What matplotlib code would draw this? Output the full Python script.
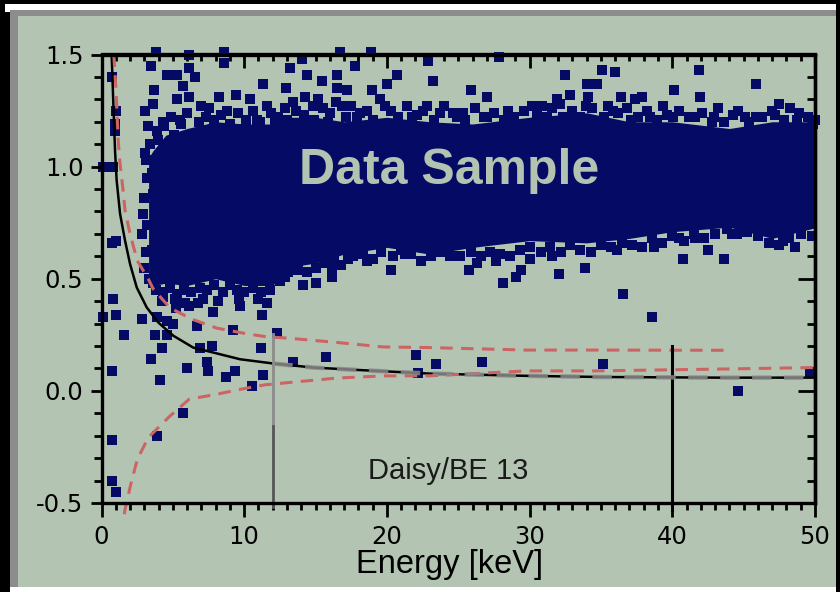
import numpy as np
import matplotlib
matplotlib.use("Agg")
import matplotlib.pyplot as plt
from matplotlib.patches import Rectangle
from matplotlib.ticker import MultipleLocator

plt.rcParams["axes.unicode_minus"] = False
plt.rcParams["lines.scale_dashes"] = False

# ---------------------------------------------------------------
# scattered events (energy in keV, ratio)
# ---------------------------------------------------------------
energy = [
    3.82, 6.15, 8.58, 8.58, 3.47, 4.57, 5.27, 6.15, 6.55, 5.69, 11.34, 3.70, 6.15, 5.31,
    9.43, 8.26, 10.40, 11.58, 3.59, 3.05, 6.95, 8.77, 7.32, 5.50, 4.33, 3.28, 9.70, 10.88,
    12.16, 5.08, 6.32, 3.05, 3.98, 0.13, 0.83, 0.71, 1.02, 0.95, 0.95,
    16.70, 18.90, 14.03, 13.20, 17.76, 22.90, 14.42, 16.48, 20.69, 15.43, 23.25, 12.93,
    16.48, 17.18, 18.94, 19.99, 14.26, 13.44, 16.83, 15.54, 22.79, 23.72, 12.86, 18.63,
    19.87, 24.65, 17.88, 21.74, 18.63, 15.89, 14.80,
    27.88, 32.48, 35.05, 35.98, 34.00, 34.70, 25.87, 27.04, 32.83, 34.11, 31.90, 36.40,
    37.39, 28.51, 30.15, 30.85, 33.95, 27.04, 32.36, 37.08, 35.86, 25.35,
    41.87, 45.85, 40.14, 41.94, 43.22, 47.50, 37.86, 39.37, 46.97, 41.59, 44.27, 45.10,
    45.90, 48.25, 38.44, 40.07, 42.76, 48.72, 49.88,
    0.71, 1.02, 0.78, 1.02, 0.13, 1.58, 2.82, 0.76, 3.59, 4.29, 5.22, 5.85, 6.78, 7.83,
    9.66, 11.23, 12.32, 3.91, 4.57, 4.99, 3.75, 4.57, 6.67, 9.19, 4.22, 3.45, 7.72, 6.90,
    5.97, 7.42, 4.10, 9.36, 8.72, 10.53, 11.34, 11.16,
    0.71, 0.71, 1.02, 3.91, 5.69, 7.49,
    4.22, 5.15, 6.10, 7.13, 8.19, 9.71, 10.99, 11.58,
    2.93, 2.82, 3.52, 3.52, 3.63,
    12.86, 14.14, 15.03, 16.13, 16.13, 20.27, 18.63, 17.30, 21.27, 24.60, 13.79, 13.40,
    15.73, 22.04, 23.44, 22.20,
    25.78, 28.16, 29.05, 29.38, 32.08, 33.88, 36.57, 27.65, 30.03, 31.55, 26.64, 35.12,
    26.29, 36.10,
    38.56, 44.63, 40.73, 42.48, 43.65, 38.72, 40.49, 41.59, 44.16, 48.60, 47.78, 49.65,
]
ratio = [
    1.51, 1.50, 1.51, 1.46, 1.45, 1.41, 1.41, 1.44, 1.40, 1.36, 1.37, 1.34, 1.31, 1.30,
    1.32, 1.31, 1.30, 1.27, 1.28, 1.25, 1.27, 1.25, 1.22, 1.21, 1.20, 1.18, 1.17, 1.21,
    1.21, 1.14, 1.14, 1.06, 1.12, 1.00, 1.00, 1.40, 1.25, 1.19, 1.16,
    1.51, 1.51, 1.48, 1.44, 1.45, 1.47, 1.41, 1.41, 1.41, 1.38, 1.38, 1.35,
    1.35, 1.34, 1.34, 1.37, 1.31, 1.29, 1.27, 1.26, 1.27, 1.24, 1.26, 1.25,
    1.27, 1.24, 1.22, 1.22, 1.18, 1.20, 1.27,
    1.49, 1.41, 1.43, 1.42, 1.37, 1.37, 1.34, 1.31, 1.32, 1.31, 1.30, 1.31,
    1.30, 1.25, 1.27, 1.27, 1.27, 1.22, 1.22, 1.21, 1.25, 1.24,
    1.43, 1.37, 1.34, 1.31, 1.26, 1.28, 1.31, 1.27, 1.25, 1.22, 1.23, 1.22,
    1.22, 1.26, 1.22, 1.22, 1.20, 1.21, 1.19,
    0.66, 0.67, 0.41, 0.34, 0.33, 0.25, 0.32, 0.09, 0.48, 0.42, 0.37, 0.39, 0.39, 0.35,
    0.41, 0.34, 0.26, 0.33, 0.31, 0.30, 0.25, 0.25, 0.29, 0.27, 0.19, 0.14, 0.20, 0.19,
    0.10, 0.13, 0.05, 0.09, 0.06, 0.02, 0.07, 0.19,
    -0.22, -0.40, -0.45, -0.20, -0.10, 0.09,
    0.40, 0.41, 0.38, 0.41, 0.40, 0.38, 0.41, 0.39,
    0.79, 0.70, 0.63, 0.97, 0.88,
    0.51, 0.47, 0.48, 0.51, 0.55, 0.54, 0.58, 0.59, 0.61, 0.60, 0.54, 0.13,
    0.15, 0.16, 0.12, 0.08,
    0.54, 0.48, 0.51, 0.54, 0.52, 0.55, 0.43, 0.58, 0.59, 0.60, 0.13, 0.12,
    0.57, 0.63,
    0.33, 0.00, 0.59, 0.63, 0.59, 0.64, 0.68, 0.68, 0.70, 0.64, 0.67, 0.08,
]

# events sitting on the rim of the dense cloud
edge_energy = [
    3.4, 3.9, 4.4, 4.9, 5.6, 6.0, 6.8, 7.5, 7.9, 8.4, 9.0, 9.6, 10.1, 10.6, 11.1, 11.9, 12.4,
    13.0, 13.6, 14.2, 14.9, 15.2, 16.0, 16.4, 17.1, 17.5, 18.1, 19.0, 19.5, 20.3, 20.8,
    21.4, 22.1, 22.5, 23.3, 24.0, 24.9,
    25.5, 26.2, 26.8, 27.5, 28.2, 28.9, 29.6, 30.5, 31.2, 31.6, 32.1, 33.0, 33.5, 34.4,
    35.2, 35.5, 36.2, 36.8, 37.6,
    38.2, 38.9, 39.6, 40.5, 41.2, 42.1, 42.9, 43.6, 44.6, 45.4, 46.3, 47.2, 47.8, 48.9,
    49.5, 50.0,
    3.3, 3.8, 4.3, 4.8, 5.3, 5.8, 6.3, 6.9, 7.4, 7.9, 8.5, 9.0, 9.5, 10.0, 10.6, 11.2, 11.8,
    12.5, 13.1, 13.8, 14.4, 15.0, 15.6, 16.3, 16.8, 17.6, 18.3, 19.0, 19.6, 20.4, 21.0,
    21.7, 22.4, 23.1, 23.8, 24.4,
    25.1, 25.9, 26.6, 27.2, 27.9, 28.6, 29.3, 30.0, 30.8, 31.4, 32.2, 32.8, 33.5, 34.3,
    35.0, 35.7, 36.5, 37.2, 37.9,
    38.6, 39.3, 40.0, 40.8, 41.5, 42.2, 43.0, 43.8, 44.5, 45.2, 46.0, 46.8, 47.5, 48.2,
    49.0, 49.8,
    3.0, 3.1, 3.2, 3.0, 3.2, 3.1,
]
edge_ratio = [
    1.10, 1.16, 1.18, 1.22, 1.19, 1.24, 1.20, 1.26, 1.21, 1.23, 1.19, 1.24, 1.21, 1.25, 1.20, 1.24, 1.22,
    1.21, 1.25, 1.23, 1.21, 1.30, 1.24, 1.29, 1.22, 1.27, 1.24, 1.21, 1.30, 1.25, 1.22,
    1.27, 1.23, 1.25, 1.21, 1.27, 1.22,
    1.21, 1.26, 1.22, 1.24, 1.21, 1.22, 1.25, 1.23, 1.22, 1.26, 1.28, 1.25, 1.22, 1.26,
    1.22, 1.27, 1.24, 1.26, 1.22,
    1.25, 1.21, 1.23, 1.25, 1.22, 1.24, 1.22, 1.20, 1.25, 1.20, 1.22, 1.23, 1.21, 1.24,
    1.22, 1.21,
    0.50, 0.45, 0.44, 0.46, 0.43, 0.45, 0.44, 0.46, 0.45, 0.47, 0.44, 0.47, 0.45, 0.44, 0.46, 0.44, 0.45,
    0.49, 0.53, 0.56, 0.53, 0.55, 0.57, 0.58, 0.56, 0.60, 0.61, 0.59, 0.62, 0.60, 0.63,
    0.61, 0.58, 0.60, 0.62, 0.60,
    0.60, 0.62, 0.60, 0.62, 0.61, 0.60, 0.63, 0.64, 0.62, 0.64, 0.62, 0.65, 0.63, 0.62,
    0.65, 0.64, 0.66, 0.65, 0.64,
    0.68, 0.66, 0.69, 0.67, 0.70, 0.68, 0.70, 0.72, 0.70, 0.71, 0.69, 0.66, 0.65, 0.68,
    0.70, 0.69,
    0.55, 0.62, 0.74, 0.86, 0.95, 1.03,
]

# dense core of the event cloud
band_energy = [3.3, 3.6, 4.5, 6.0, 8.0, 10.0, 12.0, 13.0, 15.0, 17.0, 20.0, 23.0,
               26.0, 30.0, 34.0, 37.0, 40.0, 44.0, 47.0, 50.2]
band_low = [0.52, 0.47, 0.48, 0.47, 0.50, 0.47, 0.47, 0.55, 0.57, 0.61, 0.64, 0.61,
            0.64, 0.67, 0.66, 0.68, 0.71, 0.73, 0.68, 0.73]
band_high = [1.04, 1.07, 1.14, 1.17, 1.20, 1.19, 1.19, 1.22, 1.22, 1.20, 1.22, 1.20,
             1.19, 1.22, 1.24, 1.20, 1.20, 1.17, 1.20, 1.20]

# mean curve
mean_energy = [0.70, 0.83, 0.95, 1.06, 1.30, 1.65, 2.0, 2.47, 3.17, 3.98, 5.03, 6.43,
               7.83, 9.71, 12.04, 14.84, 18.35, 23.0, 29.8, 34.9, 43.3, 50.0]
mean_ratio = [1.52, 1.28, 1.07, 0.94, 0.79, 0.67, 0.566, 0.461, 0.372, 0.305, 0.246,
              0.193, 0.171, 0.141, 0.122, 0.104, 0.092, 0.077, 0.067, 0.062, 0.059, 0.059]

# upper and lower envelope
upper_energy = [0.86, 1.02, 1.18, 1.30, 1.49, 1.65, 2.0, 2.51, 3.28, 3.63, 4.8, 6.32,
                8.07, 10.06, 11.58, 13.09, 16.48, 19.75, 23.0, 29.8, 34.5, 43.6]
upper_ratio = [1.50, 1.34, 1.108, 1.012, 0.908, 0.804, 0.70, 0.58, 0.499, 0.454, 0.37,
               0.32, 0.28, 0.256, 0.241, 0.235, 0.216, 0.196, 0.193, 0.182, 0.182, 0.181]
lower_energy = [1.60, 1.65, 2.05, 2.51, 3.28, 4.8, 6.15, 8.07, 9.82, 11.46, 13.09,
                16.48, 19.75, 23.0, 29.8, 34.5, 43.1, 50.0]
lower_ratio = [-0.55, -0.528, -0.417, -0.305, -0.208, -0.112, -0.037, -0.015, 0.008,
               0.027, 0.037, 0.057, 0.067, 0.067, 0.089, 0.089, 0.097, 0.104]

# threshold markers
cut_energy = [12.0, 40.0]
cut_top = [0.255, 0.20]
cut_bottom = [-0.52, -0.53]
cut_split = -0.155

W, H = 840, 592
SAGE = "#b4c4b2"
NAVY = "#050a64"

fig = plt.figure(figsize=(W / 100, H / 100), dpi=100)
fig.patch.set_facecolor("black")


def frame_rect(x0, y0, x1, y1, color):
    fig.patches.append(Rectangle((x0 / W, 1 - y1 / H), (x1 - x0) / W, (y1 - y0) / H,
                                 transform=fig.transFigure, facecolor=color,
                                 edgecolor="none", zorder=-10))


frame_rect(5, 4, 836, 592, "white")
frame_rect(0, 12, 10, 592, "black")
frame_rect(10, 10, 836, 587, "#8c8c8c")
frame_rect(18, 16, 836, 587, SAGE)

ax = fig.add_axes([101.5 / W, 1 - 503 / H, 713.5 / W, 448.5 / H])
ax.patch.set_visible(False)
ax.set_xlim(0, 50)
ax.set_ylim(-0.5, 1.5)

ax.fill_between(band_energy, band_low, band_high, color=NAVY, lw=0, zorder=1)
ax.scatter(edge_energy, edge_ratio, marker="s", s=52, color=NAVY, lw=0, zorder=1.1,
           clip_on=False)
ax.scatter(energy, ratio, marker="s", s=52, color=NAVY, lw=0, zorder=1.2, clip_on=False)

ax.plot(mean_energy, mean_ratio, color="black", lw=1.8, zorder=3)
me = np.array(mean_energy)
mr = np.array(mean_ratio)
flat = me >= 11
ax.plot(me[flat], mr[flat], color="#8a8a8a", lw=3.2, dashes=(14, 9), alpha=0.85, zorder=3.1)
ax.plot(upper_energy, upper_ratio, color="#cc6464", lw=2.2, dashes=(9, 6), zorder=3)
ax.plot(lower_energy, lower_ratio, color="#cc6464", lw=2.2, dashes=(9, 6), zorder=3,
        clip_on=False)

ax.plot([cut_energy[0]] * 2, [cut_top[0], cut_split], color="#8c8c8c", lw=2, zorder=3)
ax.plot([cut_energy[0]] * 2, [cut_split, cut_bottom[0]], color="#555555", lw=2,
        zorder=3, clip_on=False)
ax.plot([cut_energy[1]] * 2, [cut_top[1], cut_bottom[1]], color="black", lw=2.2,
        zorder=3, clip_on=False)

ax.text(24.35, 0.98, "Data Sample", ha="center", va="center", fontsize=36,
        fontweight="bold", family="Liberation Sans", color="#b3c3b1", zorder=5)
ax.text(24.3, -0.357, "Daisy/BE 13", ha="center", va="center", fontsize=21,
        family="Liberation Sans", color="#1a1a1a", zorder=5)

for sp in ax.spines.values():
    sp.set_linewidth(2.4)
    sp.set_zorder(6)

ax.xaxis.set_major_locator(MultipleLocator(10))
ax.xaxis.set_minor_locator(MultipleLocator(1))
ax.yaxis.set_major_locator(MultipleLocator(0.5))
ax.yaxis.set_minor_locator(MultipleLocator(0.1))
ax.set_yticks([-0.5, 0.0, 0.5, 1.0, 1.5])
ax.set_yticklabels(["-0.5", "0.0", "0.5", "1.0", "1.5"])
ax.tick_params(axis="x", which="major", direction="out", length=10, width=2, pad=6,
               labelsize=17.5, top=False)
ax.tick_params(axis="x", which="minor", direction="out", length=5, width=2, top=False)
ax.tick_params(axis="y", which="major", direction="out", length=8, width=2, pad=5,
               labelsize=17.5, right=False)
ax.tick_params(axis="y", which="minor", direction="out", length=6, width=2, right=False)

# inward ticks on the top and right edges
top = ax.secondary_xaxis("top")
top.xaxis.set_major_locator(MultipleLocator(10))
top.xaxis.set_minor_locator(MultipleLocator(1))
top.tick_params(which="major", direction="in", length=10, width=2, labeltop=False)
top.tick_params(which="minor", direction="in", length=5, width=2)
top.spines["top"].set_linewidth(2.4)

right = ax.secondary_yaxis("right")
right.yaxis.set_major_locator(MultipleLocator(0.5))
right.yaxis.set_minor_locator(MultipleLocator(0.1))
right.tick_params(which="major", direction="in", length=12, width=2, labelright=False)
right.tick_params(which="minor", direction="in", length=6, width=2)
right.spines["right"].set_linewidth(2.4)

fig.text(450 / W, 1 - 565 / H, "Energy [keV]", ha="center", va="center", fontsize=23.5,
         family="Liberation Sans", color="black")

fig.savefig("out.png", dpi=100, facecolor=fig.get_facecolor())
